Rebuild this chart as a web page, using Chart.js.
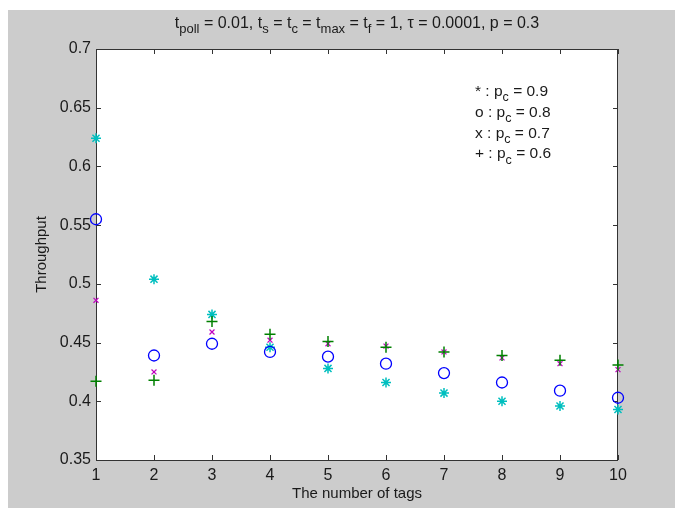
<!DOCTYPE html>
<html>
<head>
<meta charset="utf-8">
<script src="https://cdn.jsdelivr.net/npm/chart.js@4/dist/chart.umd.min.js"></script>
<style>
  html, body { margin: 0; padding: 0; background: #fff; }
</style>
</head>
<body>
<canvas id="myChart" width="675" height="509"></canvas>
<script>
// values
var tags = [1, 2, 3, 4, 5, 6, 7, 8, 9, 10];
var pc09 = [0.624, 0.504, 0.474, 0.446, 0.428, 0.416, 0.407, 0.400, 0.396, 0.393];
var pc08 = [0.555, 0.439, 0.449, 0.442, 0.438, 0.432, 0.424, 0.416, 0.409, 0.403];
var pc07 = [0.486, 0.425, 0.459, 0.452, 0.449, 0.447, 0.442, 0.437, 0.432, 0.427];
var pc06 = [0.417, 0.418, 0.468, 0.457, 0.451, 0.446, 0.442, 0.439, 0.435, 0.431];
var pcLabels = ['0.9', '0.8', '0.7', '0.6'];
var symbols = ['*', 'o', 'x', '+'];
var xTicks = [1, 2, 3, 4, 5, 6, 7, 8, 9, 10];
var yTicks = [0.35, 0.4, 0.45, 0.5, 0.55, 0.6, 0.65, 0.7];

var FONT = "'Liberation Sans', Arial, sans-serif";
var TXT = '#1a1a1a';

function pts(ys) {
  return tags.map(function(t, i) { return { x: t, y: ys[i] }; });
}

// text with subscripts: parts are [text, isSub]
function drawParts(ctx, parts, x, y, size, sub, align) {
  var w = 0;
  parts.forEach(function(p) {
    ctx.font = (p[1] ? sub : size) + 'px ' + FONT;
    w += ctx.measureText(p[0]).width;
  });
  var cx = align === 'center' ? x - w / 2 : x;
  ctx.textAlign = 'left';
  ctx.textBaseline = 'alphabetic';
  parts.forEach(function(p) {
    ctx.font = (p[1] ? sub : size) + 'px ' + FONT;
    ctx.fillText(p[0], cx, p[1] ? y + size * 0.33 : y);
    cx += ctx.measureText(p[0]).width;
  });
}

var figure = {
  id: 'figure',
  beforeDraw: function(chart) {
    var ctx = chart.ctx, a = chart.chartArea;
    ctx.save();
    ctx.fillStyle = '#fff';
    ctx.fillRect(0, 0, chart.width, chart.height);
    ctx.fillStyle = '#cccccc';
    ctx.fillRect(8, 10, chart.width - 8, chart.height - 11);
    ctx.fillStyle = '#fff';
    ctx.fillRect(a.left, a.top, a.right - a.left, a.bottom - a.top);
    ctx.restore();
  },
  beforeDatasetsDraw: function(chart) {
    var ctx = chart.ctx, a = chart.chartArea;
    var xs = chart.scales.x, ys = chart.scales.y;
    ctx.save();
    ctx.strokeStyle = '#333';
    ctx.lineWidth = 1;
    ctx.beginPath();
    yTicks.forEach(function(v) {
      var py = Math.round(ys.getPixelForValue(v)) + 0.5;
      ctx.moveTo(a.left, py); ctx.lineTo(a.left + 5, py);
      ctx.moveTo(a.right, py); ctx.lineTo(a.right - 5, py);
    });
    xTicks.forEach(function(v) {
      var px = Math.round(xs.getPixelForValue(v)) + 0.5;
      ctx.moveTo(px, a.bottom); ctx.lineTo(px, a.bottom - 5);
      ctx.moveTo(px, a.top); ctx.lineTo(px, a.top + 5);
    });
    ctx.stroke();
    ctx.strokeRect(a.left + 0.5, a.top + 0.5, a.right - a.left - 1, a.bottom - a.top);
    ctx.restore();
  },
  afterDraw: function(chart) {
    var ctx = chart.ctx, a = chart.chartArea;
    ctx.save();
    ctx.fillStyle = TXT;
    drawParts(ctx, [['t'], ['poll', 1], [' = 0.01, t'], ['s', 1], [' = t'], ['c', 1],
      [' = t'], ['max', 1], [' = t'], ['f', 1], [' = 1, \u03c4 = 0.0001, p = 0.3']],
      (a.left + a.right) / 2, 28, 16, 13, 'center');
    for (var i = 0; i < symbols.length; i++) {
      drawParts(ctx, [[symbols[i] + ' : p'], ['c', 1], [' = ' + pcLabels[i]]],
        475, 96 + i * 20.8, 15.5, 12.5, 'left');
    }
    ctx.restore();
  }
};

var ctx = document.getElementById('myChart').getContext('2d');
new Chart(ctx, {
  type: 'scatter',
  data: {
    datasets: [{
      label: 'pc = 0.6',
      data: pts(pc06),
      pointStyle: 'cross',
      pointRadius: 5.5,
      borderColor: '#008000',
      borderWidth: 1.5,
      clip: false
    }, {
      label: 'pc = 0.7',
      data: pts(pc07),
      pointStyle: 'crossRot',
      pointRadius: 3.5,
      borderColor: '#bf00bf',
      borderWidth: 1.2,
      clip: false
    }, {
      label: 'pc = 0.8',
      data: pts(pc08),
      pointStyle: 'circle',
      pointRadius: 5.5,
      borderColor: '#0000ff',
      backgroundColor: 'rgba(0,0,0,0)',
      borderWidth: 1.3,
      clip: false
    }, {
      label: 'pc = 0.9',
      data: pts(pc09),
      pointStyle: 'star',
      pointRadius: 5,
      borderColor: '#00bfbf',
      borderWidth: 1.5,
      clip: false
    }]
  },
  options: {
    responsive: false,
    animation: false,
    events: [],
    layout: { padding: { top: 49, right: 57, left: 0, bottom: 0 } },
    plugins: {
      legend: { display: false },
      tooltip: { enabled: false }
    },
    scales: {
      x: {
        type: 'linear',
        min: 1,
        max: 10,
        afterFit: function(s) { s.height = 49; },
        afterBuildTicks: function(s) { s.ticks = xTicks.map(function(v) { return { value: v }; }); },
        grid: { display: false, drawTicks: false },
        border: { display: false },
        ticks: { padding: 6, color: TXT, font: { family: FONT, size: 16 } },
        title: { display: true, text: 'The number of tags', color: TXT,
                 font: { family: FONT, size: 15 }, padding: { top: 0, bottom: 6 } }
      },
      y: {
        type: 'linear',
        min: 0.35,
        max: 0.7,
        afterFit: function(s) { s.width = 96; },
        afterBuildTicks: function(s) { s.ticks = yTicks.map(function(v) { return { value: v }; }); },
        grid: { display: false, drawTicks: false },
        border: { display: false },
        ticks: {
          padding: 5, color: TXT, font: { family: FONT, size: 16 },
          callback: function(v) { return String(+v.toFixed(2)); }
        },
        title: { display: true, text: 'Throughput', color: TXT,
                 font: { family: FONT, size: 15 }, padding: { top: 33, bottom: 0 } }
      }
    }
  },
  plugins: [figure]
});
</script>
</body>
</html>
